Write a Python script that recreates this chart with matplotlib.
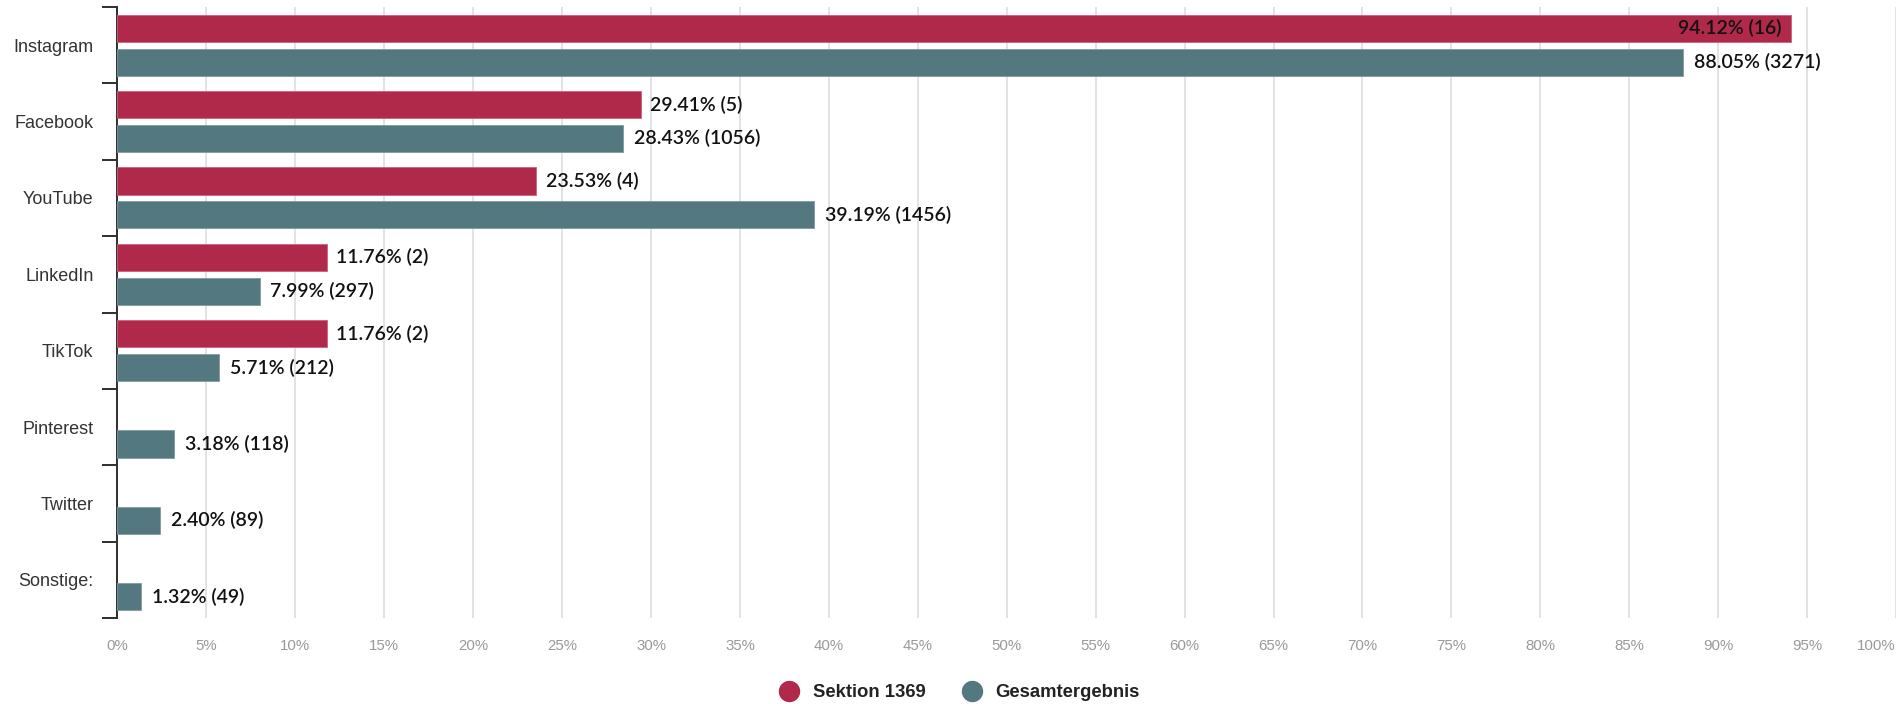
import matplotlib
matplotlib.use("Agg")
import matplotlib.pyplot as plt
from matplotlib.lines import Line2D
import numpy as np

categories = ["Instagram", "Facebook", "YouTube", "LinkedIn", "TikTok", "Pinterest", "Twitter", "Sonstige:"]
sektion_pct = [94.12, 29.41, 23.53, 11.76, 11.76, None, None, None]
sektion_n = [16, 5, 4, 2, 2, None, None, None]
gesamt_pct = [88.05, 28.43, 39.19, 7.99, 5.71, 3.18, 2.40, 1.32]
gesamt_n = [3271, 1056, 1456, 297, 212, 118, 89, 49]
series_names = ["Sektion 1369", "Gesamtergebnis"]
xticks = list(range(0, 101, 5))

RED = "#B0284A"
TEAL = "#54787F"
LABEL_KW = dict(fontsize=14, family="Lato", fontweight="semibold", color="#111111", zorder=4, va="center")
PX = 0.72  # points per pixel at dpi 100

fig = plt.figure(figsize=(18.99, 7.04), dpi=100)
ax = fig.add_axes([117.5 / 1899, 86 / 704, (1896 - 117.5) / 1899, (697 - 86) / 704])

n = len(categories)
y = np.arange(n)
off = 0.222
h = 0.355

for i in range(n):
    if sektion_pct[i] is not None:
        ax.barh(y[i] - off, sektion_pct[i], height=h, color=RED, edgecolor="#c9627a", linewidth=0.6, zorder=3)
        lab = f"{sektion_pct[i]:.2f}% ({sektion_n[i]})"
        if sektion_pct[i] > 90:
            ax.text(sektion_pct[i] - 0.55, y[i] - off, lab, ha="right", **LABEL_KW)
        else:
            ax.text(sektion_pct[i] + 0.55, y[i] - off, lab, ha="left", **LABEL_KW)
    ax.barh(y[i] + off, gesamt_pct[i], height=h, color=TEAL, edgecolor="#7e9aa0", linewidth=0.6, zorder=3)
    lab = f"{gesamt_pct[i]:.2f}% ({gesamt_n[i]})"
    ax.text(gesamt_pct[i] + 0.6, y[i] + off, lab, ha="left", **LABEL_KW)

ax.set_xlim(0, 100)
ax.set_ylim(n - 0.5, -0.5)

ax.set_xticks(xticks)
ax.set_xticklabels([f"{t}%" for t in xticks], fontsize=10.8, color="#999999", family="Liberation Sans")
ax.get_xticklabels()[-1].set_horizontalalignment("right")
ax.tick_params(axis="x", length=0, pad=21 * PX)
ax.grid(axis="x", color="#e2e2e2", linewidth=2 * PX, zorder=0)

ax.set_yticks(y)
ax.set_yticklabels(categories, fontsize=13, color="#333333", family="Liberation Sans")
ax.tick_params(axis="y", which="major", length=0, pad=24 * PX)
ax.set_yticks(np.arange(-0.5, n, 1.0), minor=True)
ax.tick_params(axis="y", which="minor", length=15 * PX, width=2 * PX, color="#333333")

for s in ["top", "right", "bottom"]:
    ax.spines[s].set_visible(False)
ax.spines["left"].set_color("#333333")
ax.spines["left"].set_linewidth(2 * PX)

handles = [Line2D([], [], marker="o", linestyle="", markersize=20 * PX, color=RED),
           Line2D([], [], marker="o", linestyle="", markersize=20 * PX, color=TEAL)]
fig.legend(handles, series_names, loc="center", bbox_to_anchor=(0.503, 0.016), ncol=2,
           frameon=False, prop={"family": "Liberation Sans", "weight": "bold", "size": 13.3},
           labelcolor="#222222", handletextpad=0.3, columnspacing=1.5)

fig.savefig("out.png", dpi=100)
